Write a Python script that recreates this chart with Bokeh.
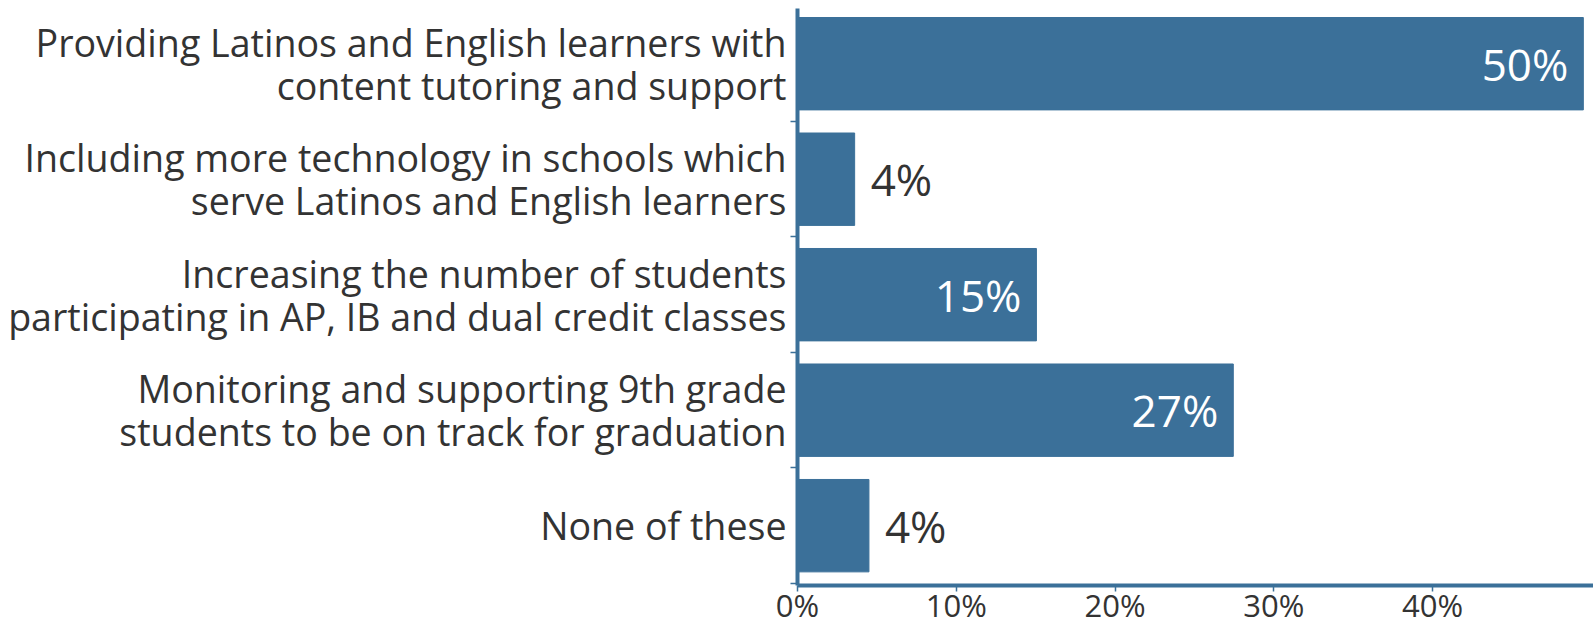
from bokeh.plotting import figure
from bokeh.models import Range1d, FixedTicker, ColumnDataSource
from bokeh.core.properties import value
from bokeh.embed import file_html
from bokeh.resources import INLINE

categories = [
    "Providing Latinos and English learners with\ncontent tutoring and support",
    "Including more technology in schools which\nserve Latinos and English learners",
    "Increasing the number of students\nparticipating in AP, IB and dual credit classes",
    "Monitoring and supporting 9th grade\nstudents to be on track for graduation",
    "None of these",
]
values = [49.5, 3.6, 15.05, 27.45, 4.5]
value_labels = ["50%", "4%", "15%", "27%", "4%"]
x_ticks = [0, 10, 20, 30, 40]
x_tick_labels = ["0%", "10%", "20%", "30%", "40%"]

BAR = "#3b7099"
TEXT = "#333333"
FONT = "Open Sans"

pos = list(range(len(categories)))
src = ColumnDataSource(dict(y=pos, v=values, lab=value_labels))

inside = [v >= 10 for v in values]
src_in = ColumnDataSource(dict(
    y=[p_ for p_, f in zip(pos, inside) if f],
    v=[v for v, f in zip(values, inside) if f],
    lab=[l for l, f in zip(value_labels, inside) if f]))
src_out = ColumnDataSource(dict(
    y=[p_ for p_, f in zip(pos, inside) if not f],
    v=[v for v, f in zip(values, inside) if not f],
    lab=[l for l, f in zip(value_labels, inside) if not f]))

p = figure(frame_width=796, frame_height=577, output_backend="svg",
           toolbar_location=None,
           x_range=Range1d(0, 50.14), y_range=Range1d(4.518, -0.478),
           min_border_left=797, min_border_right=0, min_border_top=8,
           min_border_bottom=0)

p.hbar(y="y", right="v", left=0, height=0.8, source=src,
       fill_color=BAR, line_color=BAR, line_width=1)

p.text(x="v", y="y", text="lab", source=src_in, x_offset=-15,
       text_align="right", text_baseline="middle", text_color="white",
       text_font=value(FONT), text_font_size="44px")
p.text(x="v", y="y", text="lab", source=src_out, x_offset=16,
       text_align="left", text_baseline="middle", text_color=TEXT,
       text_font=value(FONT), text_font_size="44px")

p.outline_line_color = None
p.xgrid.grid_line_color = None
p.ygrid.grid_line_color = None

xa = p.xaxis[0]
xa.ticker = FixedTicker(ticks=x_ticks)
xa.major_label_overrides = dict(zip(x_ticks, x_tick_labels))
xa.axis_line_color = BAR
xa.axis_line_width = 4
xa.major_tick_line_color = BAR
xa.major_tick_line_width = 1.5
xa.major_tick_out = 6
xa.major_tick_in = 0
xa.minor_tick_line_color = None
xa.major_label_standoff = -8
xa.major_label_text_font = FONT
xa.major_label_text_font_size = "31px"
xa.major_label_text_color = TEXT
xa.major_label_text_align = "left"

ya = p.yaxis[0]
ya.ticker = FixedTicker(ticks=pos, minor_ticks=[i - 0.5 for i in pos] + [pos[-1] + 0.5])
ya.major_label_overrides = dict(zip(pos, categories))
ya.axis_line_color = BAR
ya.axis_line_width = 4
ya.major_tick_line_color = None
ya.major_tick_out = 0
ya.major_tick_in = 0
ya.minor_tick_line_color = BAR
ya.minor_tick_line_width = 1.5
ya.minor_tick_out = 7
ya.minor_tick_in = 0
ya.major_label_standoff = 4
ya.major_label_text_font = FONT
ya.major_label_text_font_size = "37.6px"
ya.major_label_text_color = TEXT
ya.major_label_text_line_height = 0.84
ya.major_label_text_align = "right"

open("out.html", "w").write(file_html(p, INLINE))
